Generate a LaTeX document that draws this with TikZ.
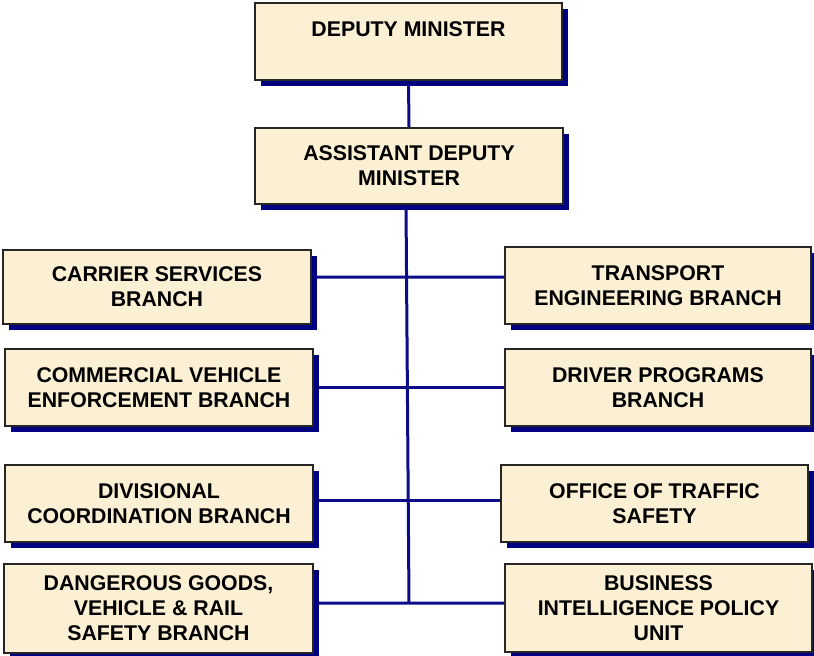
\documentclass[tikz,border=0pt]{standalone}
\usepackage{fontspec}
\setmainfont{Liberation Sans}
\usetikzlibrary{shadows,backgrounds}
\definecolor{boxfill}{RGB}{252,240,212}
\definecolor{shadowblue}{RGB}{0,0,128}
\definecolor{linkblue}{RGB}{12,12,138}
\tikzset{
  orgbox/.style={draw=black!85, line width=1.5bp, fill=boxfill,
    drop shadow={shadow xshift=6bp, shadow yshift=-6bp, fill=shadowblue, opacity=1},
    align=center, inner sep=0pt,
    font=\fontsize{21.3bp}{25bp}\selectfont\bfseries},
  link/.style={draw=linkblue, line width=3bp}
}
\begin{document}
\begin{tikzpicture}[x=1bp,y=-1bp]
\useasboundingbox (0,0) rectangle (814,656);
\node[orgbox, minimum width=307bp, minimum height=77bp] (dm) at (408.5,41.5) {DEPUTY MINISTER\\\mbox{}};
\node[orgbox, minimum width=308bp, minimum height=76bp] (adm) at (409,166) {ASSISTANT DEPUTY\\MINISTER};
\node[orgbox, minimum width=308bp, minimum height=74bp] (carrier) at (157,287) {CARRIER SERVICES\\BRANCH};
\node[orgbox, minimum width=306bp, minimum height=77bp] (transport) at (658,285.5) {TRANSPORT\\ENGINEERING BRANCH};
\node[orgbox, minimum width=308bp, minimum height=77bp] (commercial) at (159,387.5) {COMMERCIAL VEHICLE\\ENFORCEMENT BRANCH};
\node[orgbox, minimum width=306bp, minimum height=77bp] (driver) at (658,387.5) {DRIVER PROGRAMS\\BRANCH};
\node[orgbox, minimum width=308bp, minimum height=77bp] (divisional) at (159,503.5) {DIVISIONAL\\COORDINATION BRANCH};
\node[orgbox, minimum width=307bp, minimum height=77bp] (office) at (654.5,503.5) {OFFICE OF TRAFFIC\\SAFETY};
\node[orgbox, minimum width=309bp, minimum height=89bp] (dangerous) at (158.5,608.5) {DANGEROUS GOODS,\\VEHICLE \& RAIL\\SAFETY BRANCH};
\node[orgbox, minimum width=307bp, minimum height=88bp] (business) at (658.5,608) {BUSINESS\\INTELLIGENCE POLICY\\UNIT};
\coordinate (trunkbot) at (409,603);
\begin{scope}[on background layer]
\draw[link] (dm.south) -- (adm.north);
\draw[link] ([xshift=-3bp]adm.south) -- (trunkbot);
\draw[link] ([yshift=10bp]carrier.east) -- ([yshift=8.5bp]transport.west);
\draw[link] (commercial.east) -- (driver.west);
\draw[link] ([yshift=3.5bp]divisional.east) -- ([yshift=3.5bp]office.west);
\draw[link] ([yshift=5.5bp]dangerous.east) -- ([yshift=5bp]business.west);
\end{scope}
\end{tikzpicture}
\end{document}
